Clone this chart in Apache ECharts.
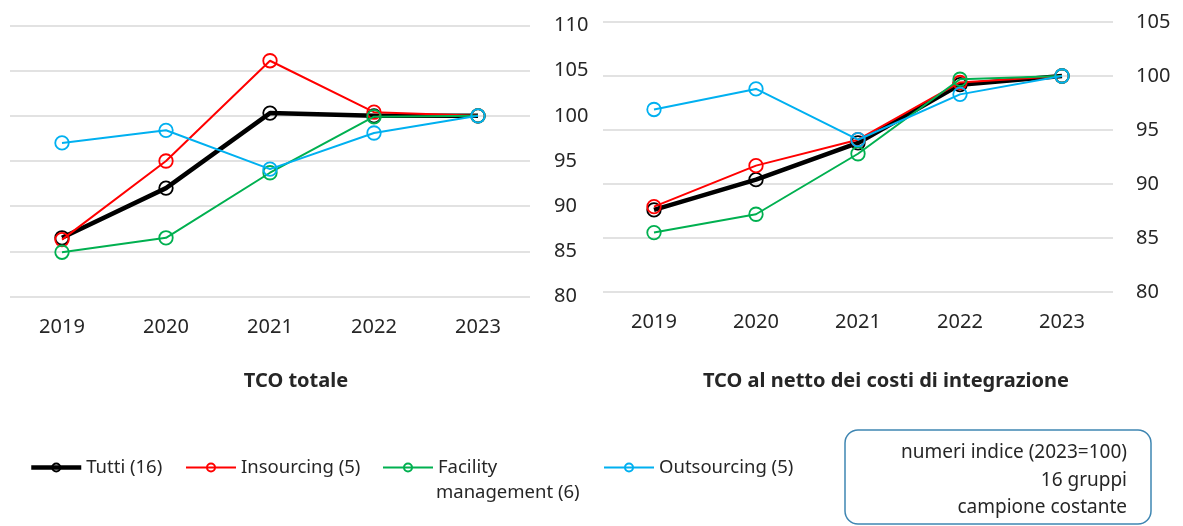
<!DOCTYPE html>
<html><head><meta charset="utf-8">
<script src="https://cdn.jsdelivr.net/npm/echarts@6/dist/echarts.min.js"></script>
<style>html,body{margin:0;padding:0;background:#fff}#c{width:1183px;height:526px}</style>
</head><body><div id="c"></div>
<script>
const years = ['2019','2020','2021','2022','2023'];
const seriesNames = ['Tutti (16)','Insourcing (5)','Facility management (6)','Outsourcing (5)'];
const colors = ['#000000','#FF0000','#00B050','#00B0F0'];
const widths = [4.5, 2, 2, 2];
// TCO totale
const leftTutti = [86.5, 92.0, 100.3, 100.0, 100];
const leftIns   = [86.3, 95.0, 106.1, 100.4, 100];
const leftFac   = [84.9, 86.5, 93.7, 99.9, 100];
const leftOut   = [97.0, 98.4, 94.1, 98.1, 100];
// TCO al netto dei costi di integrazione
const rightTutti = [87.6, 90.4, 93.8, 99.2, 100];
const rightIns   = [87.9, 91.7, 94.1, 99.4, 100];
const rightFac   = [85.5, 87.2, 92.8, 99.7, 100];
const rightOut   = [96.9, 98.8, 94.1, 98.3, 100];
const leftTicks = {min: 80, max: 110, interval: 5};
const rightTicks = {min: 80, max: 105, interval: 5};
const titles = ['TCO totale', 'TCO al netto dei costi di integrazione'];
const noteLines = ['numeri indice (2023=100)', '16 gruppi', 'campione costante'];

const FONT = '"Noto Sans", sans-serif';
const TXT = '#262626';
const chart = echarts.init(document.getElementById('c'), null, {renderer: 'canvas'});

function mkSeries(data, idx, axisIdx) {
  return {
    type: 'line', name: seriesNames[idx], data: data,
    xAxisIndex: axisIdx, yAxisIndex: axisIdx,
    symbol: 'circle', symbolSize: 13.5,
    lineStyle: {color: colors[idx], width: widths[idx]},
    itemStyle: {color: 'rgba(255,255,255,0)', borderColor: colors[idx], borderWidth: 1.8},
    emphasis: {disabled: true}, animation: false, z: 2 + idx
  };
}
function xAx(gi, margin) {
  return {type: 'category', gridIndex: gi, data: years, boundaryGap: true,
    axisLine: {show: false}, axisTick: {show: false},
    axisLabel: {color: TXT, fontFamily: FONT, fontSize: 20, margin: margin}};
}
function yAx(gi, t, margin) {
  return {type: 'value', gridIndex: gi, position: 'right', min: t.min, max: t.max, interval: t.interval,
    axisLine: {show: false}, axisTick: {show: false},
    splitLine: {show: true, lineStyle: {color: '#D9D9D9', width: 1.6}},
    axisLabel: {color: TXT, fontFamily: FONT, fontSize: 20, margin: margin, align: 'left'}};
}
function leg(i, left, text) {
  return {show: true, data: [seriesNames[i]], left: left, top: 458, itemWidth: 50, itemHeight: 10,
    itemGap: 0, padding: 0,
    lineStyle: {width: widths[i]},
    formatter: function(){ return text; },
    textStyle: {color: TXT, fontFamily: FONT, fontSize: 18.5}, selectedMode: false};
}

chart.setOption({
  backgroundColor: '#fff',
  animation: false,
  grid: [
    {left: 10, top: 25.5, width: 520, height: 271},
    {left: 603, top: 22, width: 510, height: 270}
  ],
  xAxis: [xAx(0, 21), xAx(1, 20)],
  yAxis: [yAx(0, leftTicks, 24), yAx(1, rightTicks, 23)],
  legend: [
    leg(0, 29, 'Tutti (16)'),
    leg(1, 185, 'Insourcing (5)'),
    leg(2, 382, 'Facility'),
    leg(3, 603, 'Outsourcing (5)')
  ],
  series: [
    mkSeries(leftTutti, 0, 0), mkSeries(leftIns, 1, 0), mkSeries(leftFac, 2, 0), mkSeries(leftOut, 3, 0),
    mkSeries(rightTutti, 0, 1), mkSeries(rightIns, 1, 1), mkSeries(rightFac, 2, 1), mkSeries(rightOut, 3, 1)
  ],
  graphic: [
    {type: 'text', x: 296, y: 381, style: {text: titles[0], font: 'bold 20px ' + FONT, fill: TXT, align: 'center', verticalAlign: 'middle'}},
    {type: 'text', x: 886, y: 381, style: {text: titles[1], font: 'bold 20px ' + FONT, fill: TXT, align: 'center', verticalAlign: 'middle'}},
    {type: 'text', x: 436, y: 493, style: {text: 'management (6)', font: '18.5px ' + FONT, fill: TXT, align: 'left', verticalAlign: 'middle'}},
    {type: 'rect', shape: {x: 845, y: 430, width: 306, height: 94, r: 13}, style: {fill: '#fff', stroke: '#3F86B2', lineWidth: 1.5}},
    {type: 'text', x: 1127, y: 453, style: {text: noteLines[0], font: '19px ' + FONT, fill: TXT, align: 'right', verticalAlign: 'middle'}},
    {type: 'text', x: 1127, y: 481, style: {text: noteLines[1], font: '19px ' + FONT, fill: TXT, align: 'right', verticalAlign: 'middle'}},
    {type: 'text', x: 1127, y: 508, style: {text: noteLines[2], font: '19px ' + FONT, fill: TXT, align: 'right', verticalAlign: 'middle'}}
  ]
});
</script>
</body></html>
